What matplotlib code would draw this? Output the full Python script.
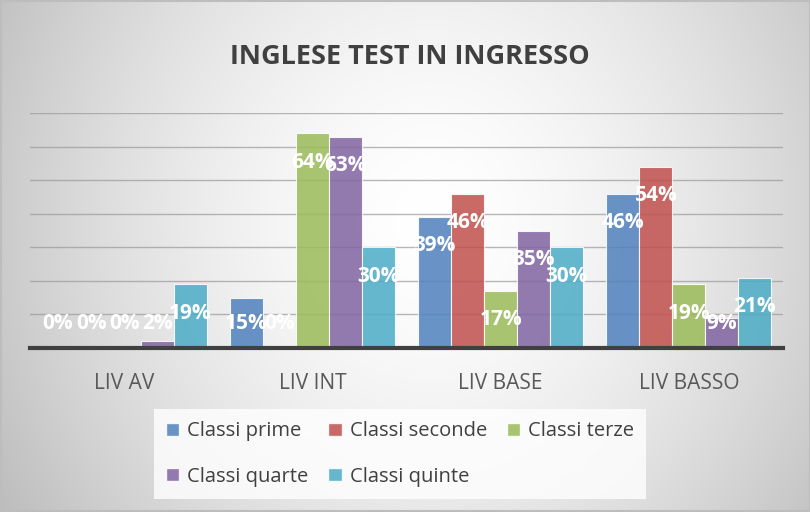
import numpy as np
import matplotlib
matplotlib.use("Agg")
import matplotlib.pyplot as plt
from matplotlib.patches import Patch, Rectangle

categories = ["LIV AV", "LIV INT", "LIV BASE", "LIV BASSO"]
series_names = ["Classi prime", "Classi seconde", "Classi terze", "Classi quarte", "Classi quinte"]
classi_prime = [0, 15, 39, 46]
classi_seconde = [0, 0, 46, 54]
classi_terze = [0, 64, 17, 19]
classi_quarte = [2, 63, 35, 9]
classi_quinte = [19, 30, 30, 21]
series_values = [classi_prime, classi_seconde, classi_terze, classi_quarte, classi_quinte]
colors = ["#4F81BD", "#C0504D", "#9BBB59", "#8064A2", "#4BACC6"]
title = "INGLESE TEST IN INGRESSO"

W, H = 810, 512
fig = plt.figure(figsize=(W / 100, H / 100), dpi=100)

# background radial gradient
bg = fig.add_axes([0, 0, 1, 1], zorder=-10)
yy, xx = np.mgrid[0:H, 0:W]
t = np.sqrt(((xx - 430) / 430.0) ** 2 + ((yy - 220) / 480.0) ** 2)
g = 255 - 52 * np.power(t, 1.6)
g = np.clip(g, 190, 255) / 255.0
img = np.dstack([g, g, g])
bg.imshow(img, extent=[0, W, H, 0], aspect="auto", interpolation="bilinear")
bg.set_xlim(0, W)
bg.set_ylim(H, 0)
bg.axis("off")
bg.add_patch(Rectangle((0.5, 0.5), W - 1, H - 1.5, fill=False, edgecolor="#bdbdbd", linewidth=1.5))

ax = fig.add_axes([30 / W, 1 - 348 / H, (783 - 30) / W, (348 - 113) / H])
ax.set_facecolor("none")
ax.set_xlim(-0.5, len(categories) - 0.5)
ax.set_ylim(0, 70)

bw = 33 / 188
x = np.arange(len(categories))
for i, (vals, c) in enumerate(zip(series_values, colors)):
    xs = x + (i - 2) * bw
    ax.bar(xs, vals, width=bw, color=c, alpha=0.85, edgecolor=(1, 1, 1, 0.6), linewidth=0.8, zorder=3, label=series_names[i])
    for xi, v in zip(xs, vals):
        ly = max(v - 8.6, 7.4)
        ax.text(xi, ly, f"{v}%", ha="center", va="center", color="white",
                fontsize=15, fontweight="bold", family="Open Sans", zorder=5)

ax.set_yticks(np.arange(10, 71, 10))
ax.yaxis.grid(True, color="#999999", linewidth=1.0, alpha=0.7, zorder=1)
ax.tick_params(axis="y", left=False, labelleft=False)
ax.set_xticks(x)
ax.set_xticklabels(categories, fontsize=15, color="#595959", family="Open Sans")
ax.tick_params(axis="x", length=0, pad=18)
for s in ["top", "right", "left"]:
    ax.spines[s].set_visible(False)
ax.spines["bottom"].set_color("#404040")
ax.spines["bottom"].set_linewidth(3)
ax.spines["bottom"].set_zorder(6)

fig.text(410 / W, 1 - 57 / H, title, ha="center", va="center", fontsize=19.5,
         fontweight="bold", color="#404040", family="Open Sans")

handles = [Patch(facecolor=c, edgecolor=(1, 1, 1, 0.6), alpha=0.85) for c in colors]
order = [0, 3, 1, 4, 2]
leg = fig.legend([handles[k] for k in order], [series_names[k] for k in order],
                 ncol=3, loc="center", bbox_to_anchor=(400 / W, 1 - 454 / H),
                 prop={"family": "Open Sans", "size": 14.5}, frameon=True,
                 handlelength=0.65, handleheight=0.65, handletextpad=0.4,
                 columnspacing=1.0, labelspacing=1.25, borderpad=0.6)
leg.get_frame().set_facecolor((1, 1, 1, 0.22))
leg.get_frame().set_edgecolor("none")
leg.get_frame().set_boxstyle("square", pad=0)
for txt in leg.get_texts():
    txt.set_color("#404040")

fig.savefig("out.png", dpi=100)
